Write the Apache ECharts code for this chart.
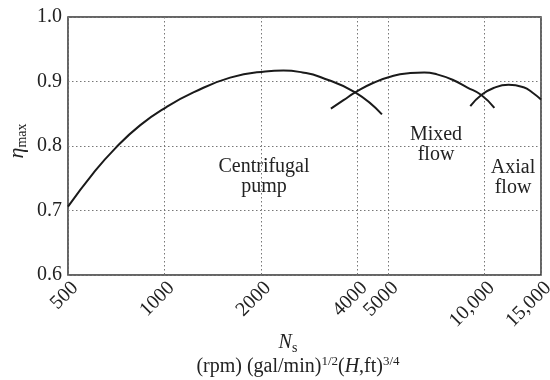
<!DOCTYPE html>
<html>
<head>
<meta charset="utf-8">
<script src="https://cdn.jsdelivr.net/npm/echarts@6/dist/echarts.min.js"></script>
<style>html,body{margin:0;padding:0;background:#fff}#c{width:550px;height:380px}</style>
</head>
<body>
<div id="c"></div>
<script>
// Ns (specific speed) values and max efficiency for each pump type
var centrifugalNs  = [500, 600, 701, 839, 1012, 1232, 1604, 2064, 2354, 2700, 3066, 3943, 4779];
var centrifugalEta = [0.706, 0.758, 0.796, 0.832, 0.860, 0.883, 0.906, 0.9155, 0.917, 0.914, 0.907, 0.883, 0.849];
var mixedNs  = [3311, 3625, 3943, 4498, 5196, 5858, 6479, 7100, 8001, 8809, 9767, 10726];
var mixedEta = [0.858, 0.871, 0.883, 0.898, 0.909, 0.913, 0.914, 0.911, 0.902, 0.891, 0.879, 0.859];
var axialNs  = [9022, 9767, 10668, 11879, 13235, 14092, 15000];
var axialEta = [0.862, 0.879, 0.890, 0.895, 0.891, 0.883, 0.872];
var xTicks = [500, 1000, 2000, 4000, 5000, 10000, 15000];

function pairs(xs, ys) { return xs.map(function (x, i) { return [x, ys[i]]; }); }

var FONT = 'Liberation Serif';
var TXT = '#222';
var chart = echarts.init(document.getElementById('c'), null, {renderer: 'canvas'});
function lineSeries(name, xs, ys) {
  return {
    name: name, type: 'line', data: pairs(xs, ys), smooth: 0.5, showSymbol: false,
    lineStyle: {color: '#1a1a1a', width: 2}, silent: true
  };
}
chart.setOption({
  animation: false,
  grid: {left: 68, right: 9, top: 17, bottom: 105, containLabel: false, outerBoundsMode: 'none',
    show: true, borderColor: '#333', borderWidth: 1.5, backgroundColor: 'transparent'},
  xAxis: {
    type: 'log', logBase: 10, min: 500, max: 15000,
    axisLine: {show: false},
    axisTick: {show: false, customValues: xTicks},
    axisLabel: {
      customValues: xTicks, rotate: 45, margin: 3, verticalAlign: 'top', hideOverlap: false,
      fontFamily: FONT, fontSize: 20, color: TXT,
      formatter: function (v) { return v >= 10000 ? (v / 1000) + ',000' : String(v); }
    },
    splitLine: {show: true, lineStyle: {type: [1.5, 2.5], color: '#777', width: 1}}
  },
  yAxis: {
    type: 'value', min: 0.6, max: 1.0, interval: 0.1,
    axisLine: {show: false},
    axisTick: {show: false},
    axisLabel: {fontFamily: FONT, fontSize: 20, color: TXT, margin: 6,
      formatter: function (v) { return v.toFixed(1); }},
    splitLine: {show: true, lineStyle: {type: [1.5, 2.5], color: '#777', width: 1}}
  },
  series: [
    lineSeries('Centrifugal pump', centrifugalNs, centrifugalEta),
    lineSeries('Mixed flow', mixedNs, mixedEta),
    lineSeries('Axial flow', axialNs, axialEta)
  ],
  graphic: [
    {type: 'text', x: 264, y: 177, style: {text: 'Centrifugal\npump', font: '20px "Liberation Serif"', fill: TXT, align: 'center', verticalAlign: 'middle', lineHeight: 20}},
    {type: 'text', x: 436, y: 145, style: {text: 'Mixed\nflow', font: '20px "Liberation Serif"', fill: TXT, align: 'center', verticalAlign: 'middle', lineHeight: 20}},
    {type: 'text', x: 513, y: 178, style: {text: 'Axial\nflow', font: '20px "Liberation Serif"', fill: TXT, align: 'center', verticalAlign: 'middle', lineHeight: 20}},
    {type: 'text', x: 288, y: 343, style: {
      text: '{i|N}{sub|s}', align: 'center', verticalAlign: 'middle', fill: TXT,
      rich: {
        i: {fontFamily: FONT, fontStyle: 'italic', fontSize: 20, lineHeight: 24, color: TXT},
        sub: {fontFamily: FONT, fontSize: 14, lineHeight: 24, verticalAlign: 'bottom', color: TXT}
      }}},
    {type: 'text', x: 298, y: 367, style: {
      text: '{n|(rpm) (gal/min)}{sup|1/2}{n|(}{i|H}{n|,ft)}{sup|3/4}', align: 'center', verticalAlign: 'middle', fill: TXT,
      rich: {
        n: {fontFamily: FONT, fontSize: 20, lineHeight: 24, color: TXT},
        i: {fontFamily: FONT, fontStyle: 'italic', fontSize: 20, lineHeight: 24, color: TXT},
        sup: {fontFamily: FONT, fontSize: 13, lineHeight: 24, verticalAlign: 'top', color: TXT}
      }}},
    {type: 'text', x: 17, y: 141, rotation: Math.PI / 2, style: {
      text: '{i|η}{sub|max}', align: 'center', verticalAlign: 'middle', fill: TXT,
      rich: {
        i: {fontFamily: FONT, fontStyle: 'italic', fontSize: 22, lineHeight: 24, color: TXT},
        sub: {fontFamily: FONT, fontSize: 14, lineHeight: 24, verticalAlign: 'bottom', color: TXT}
      }}}
  ]
});
</script>
</body>
</html>
